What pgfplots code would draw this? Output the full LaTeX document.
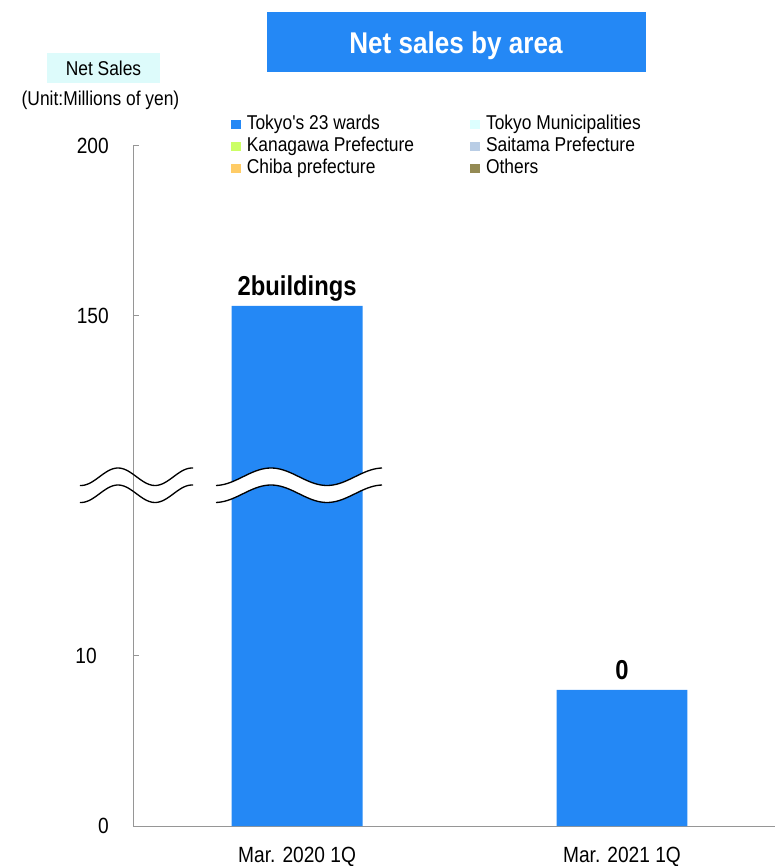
\documentclass[border=0pt]{standalone}
\usepackage{fontspec}
\setmainfont[FakeStretch=0.87, Ligatures=TeXOff]{Liberation Sans}
\usepackage{pgfplots}
\pgfplotsset{compat=1.18}

\definecolor{barblue}{HTML}{2488F5}
\definecolor{netcyan}{HTML}{DDFBFB}
\definecolor{cMuni}{HTML}{DDFFFF}
\definecolor{cKana}{HTML}{CCFF66}
\definecolor{cSait}{HTML}{B9CDE5}
\definecolor{cChiba}{HTML}{FFCC66}
\definecolor{cOther}{HTML}{948A54}
\definecolor{axgray}{HTML}{969696}

\newcommand{\basefont}{\fontsize{15}{18}\selectfont}
\newcommand{\tickfont}{\fontsize{16.5}{20}\selectfont}

% sales figures (millions of yen) and the number of buildings sold
\pgfplotstableread{
x  y    label
0  153  2buildings
1  8    0
}\salestable

\begin{document}
\begin{tikzpicture}
\useasboundingbox (-99.75pt,-30pt) rectangle (481.5pt,619.5pt);
\begin{axis}[
  scale only axis, width=481.5pt, height=510pt,
  axis lines=left,
  axis line style={axgray, line width=0.75pt, -},
  xmin=-0.505, xmax=1.471,
  ymin=0, ymax=200,
  % broken value axis: 0-10 and 150-200 share the same scale per segment
  y coord trafo/.code={\pgfmathparse{#1<=10 ? #1 : (#1<150 ? 10+(#1-10)/7 : 30+(#1-150)/5)}},
  y coord inv trafo/.code={\pgfmathparse{#1<=10 ? #1 : (#1<30 ? 10+(#1-10)*7 : 150+(#1-30)*5)}},
  ytick={0,10,150,200},
  yticklabels={0,{10\hspace*{9pt}},150,200},
  tick align=inside,
  major tick length=4.5pt,
  ytick style={axgray, line width=0.75pt},
  xtick={0,1},
  xticklabels={Mar. 2020 1Q, Mar. 2021 1Q},
  xtick style={draw=none},
  xticklabel style={anchor=base, yshift=-27pt, inner sep=0pt, font=\tickfont},
  yticklabel style={anchor=base east, xshift=-18pt, yshift=-5.9pt, inner sep=0pt, font=\tickfont},
  legend image code/.code={\fill[#1] (0pt,-3.6pt) rectangle (7.5pt,3.6pt);},
  legend columns=2,
  legend cell align=left,
  legend style={
    at={(rel axis cs:0.1526,1.0481)}, anchor=north west,
    draw=none, fill=none, inner sep=0pt,
    font=\basefont,
    nodes={text height=11pt, text depth=3.5pt, inner ysep=1pt, inner xsep=4.2pt},
    /tikz/every even column/.append style={column sep=38pt},
  },
]
\addplot[ybar, bar width=0.403, fill=barblue, draw=none, forget plot,
  nodes near coords, point meta=explicit symbolic,
  every node near coord/.append style={font=\bfseries\fontsize{20.5}{24}\selectfont,
    anchor=base, yshift=7.5pt, inner sep=0pt}]
  table[x=x, y=y, meta=label] {\salestable};

\addlegendimage{fill=barblue, draw=none}
\addlegendentry{Tokyo's 23 wards}
\addlegendimage{fill=cMuni, draw=none}
\addlegendentry{Tokyo Municipalities}
\addlegendimage{fill=cKana, draw=none}
\addlegendentry{Kanagawa Prefecture}
\addlegendimage{fill=cSait, draw=none}
\addlegendentry{Saitama Prefecture}
\addlegendimage{fill=cChiba, draw=none}
\addlegendentry{Chiba prefecture}
\addlegendimage{fill=cOther, draw=none}
\addlegendentry{Others}
\end{axis}

% annotations laid out on a 0.75pt grid, origin at the top left of the page
\begin{scope}[x=0.75pt, y=-0.75pt, shift={(-133,-826)}]
  % title banner
  \fill[barblue] (267,12) rectangle (646,72);
  \node[anchor=base, text=white, inner sep=0pt,
        font=\bfseries\fontsize{22.5}{27}\selectfont] at (456,54) {Net sales by area};
  % unit caption
  \fill[netcyan] (47,53) rectangle (160,83);
  \node[anchor=base, inner sep=0pt, font=\basefont] at (103.5,76) {Net Sales};
  \node[anchor=base, inner sep=0pt, font=\basefont] at (100.5,106) {(Unit:Millions of yen)};
  % axis break marks
  \draw[line width=1pt] plot[domain=80:193, samples=60, smooth]
        (\x, {476.75+8.75*cos((\x-155)/74*360)});
  \draw[line width=1pt] plot[domain=80:193, samples=60, smooth]
        (\x, {493.75+8.75*cos((\x-155)/74*360)});
  \fill[white] plot[domain=216:382, samples=60, smooth]
        (\x, {476.75+8.75*cos((\x-327)/112*360)})
        -- plot[domain=382:216, samples=60, smooth]
        (\x, {493.75+8.75*cos((\x-327)/112*360)}) -- cycle;
  \draw[line width=1pt] plot[domain=216:382, samples=60, smooth]
        (\x, {476.75+8.75*cos((\x-327)/112*360)});
  \draw[line width=1pt] plot[domain=216:382, samples=60, smooth]
        (\x, {493.75+8.75*cos((\x-327)/112*360)});
\end{scope}
\end{tikzpicture}
\end{document}
